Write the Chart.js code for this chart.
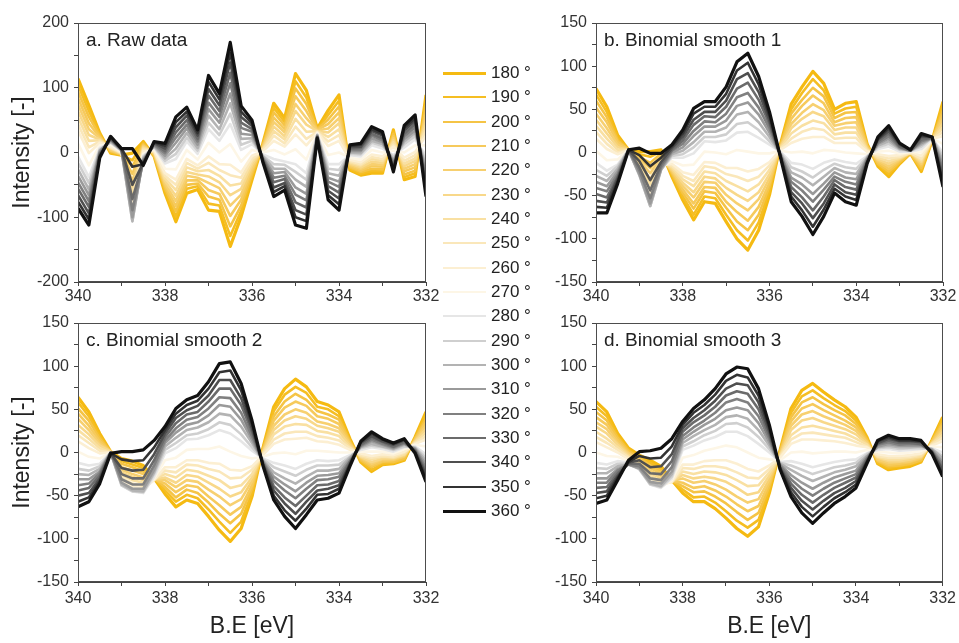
<!DOCTYPE html>
<html>
<head>
<meta charset="utf-8">
<script src="https://cdn.jsdelivr.net/npm/chart.js@4.4.0/dist/chart.umd.min.js"></script>
<style>
  body { margin: 0; background: #fff; width: 959px; height: 643px; overflow: hidden; position: relative;
         font-family: "Liberation Sans", Arial, sans-serif; }
  canvas { position: absolute; left: 0; top: 0; }
  .item { position: absolute; left: 443px; height: 24px; display: flex; align-items: center; }
  .swatch { width: 43px; margin-right: 5px; }
  .item span { font-size: 17px; color: #222; }
</style>
</head>
<body>
<canvas id="pa" width="959" height="643"></canvas>
<canvas id="pb" width="959" height="643"></canvas>
<canvas id="pc" width="959" height="643"></canvas>
<canvas id="pd" width="959" height="643"></canvas>
<div id="legend"></div>
<script>
// binding energy of each row (eV)
const energy = [340,339.75,339.5,339.25,339,338.75,338.5,338.25,338,337.75,337.5,337.25,337,336.75,336.5,336.25,336,
                335.75,335.5,335.25,335,334.75,334.5,334.25,334,333.75,333.5,333.25,333,332.75,332.5,332.25,332];
const angles = [180,190,200,210,220,230,240,250,260,270,280,290,300,310,320,330,340,350,360];

// one row per energy, one column per angle (180 ... 360)
const rawRows = [
  [114,104,94,84,74,64,54,44,34,14,-6,-16,-26,-36,-46,-56,-66,-76,-86],
  [73,64,55,45,36,27,18,8,-1,-20,-38,-47,-57,-66,-75,-84,-94,-103,-112],
  [30,28,26,24,22,20,19,17,15,11,7,5,3,2,0,-2,-4,-6,-8],
  [-1,0,2,3,4,6,7,8,9,12,15,16,17,19,20,21,22,24,25],
  [-4,-4,-3,-3,-2,-2,-1,-1,0,1,2,3,3,4,4,5,5,6,6],
  [-1,-12,-22,-33,-44,-54,-65,-76,-86,-97,-107,-106,-106,-100,-89,-72,-50,-22,6],
  [17,15,13,11,10,8,6,4,2,-2,-5,-7,-9,-11,-13,-14,-16,-18,-20],
  [-6,-5,-4,-3,-1,0,1,2,3,6,8,9,10,11,12,14,15,16,17],
  [-63,-59,-55,-51,-48,-44,-40,-36,-32,-25,-17,-13,-9,-5,-1,2,6,10,14],
  [-107,-99,-91,-83,-75,-67,-58,-50,-42,-26,-10,-2,6,15,23,31,39,47,55],
  [-63,-56,-50,-43,-36,-30,-23,-16,-10,4,17,23,30,37,43,50,57,63,70],
  [-57,-52,-48,-43,-39,-34,-29,-25,-20,-11,-2,3,7,12,17,21,26,30,35],
  [-89,-79,-68,-58,-47,-37,-27,-16,-6,15,36,46,57,67,77,88,98,109,119],
  [-91,-82,-73,-64,-55,-46,-36,-27,-18,0,18,27,36,46,55,64,73,82,91],
  [-145,-129,-114,-98,-82,-66,-51,-35,-19,13,44,60,76,91,107,123,139,154,170],
  [-99,-90,-82,-73,-65,-56,-48,-39,-31,-14,4,12,21,29,38,46,55,63,72],
  [-42,-37,-33,-28,-24,-19,-14,-10,-5,4,13,18,22,27,32,36,41,45,50],
  [14,13,11,10,8,7,5,4,2,0,-3,-5,-6,-8,-9,-11,-12,-14,-15],
  [76,69,62,54,47,40,33,26,18,4,-10,-18,-25,-32,-39,-46,-54,-61,-68],
  [53,47,42,36,31,25,20,14,9,-3,-14,-19,-25,-30,-36,-41,-47,-52,-58],
  [122,110,99,87,75,64,52,40,28,5,-18,-30,-42,-54,-65,-77,-89,-100,-112],
  [96,85,75,64,53,43,32,21,11,-11,-32,-42,-53,-64,-74,-85,-96,-106,-117],
  [37,36,36,35,34,33,33,32,31,30,28,27,27,26,25,24,24,23,22],
  [65,58,51,44,37,31,24,17,10,-4,-18,-25,-32,-39,-45,-52,-59,-66,-73],
  [89,80,71,62,53,45,36,27,18,0,-18,-27,-36,-45,-53,-62,-71,-80,-89],
  [-27,-25,-23,-21,-19,-17,-15,-13,-11,-8,-4,-2,0,2,4,6,8,10,12],
  [-35,-33,-30,-28,-25,-23,-20,-18,-15,-11,-6,-3,-1,2,4,7,9,12,14],
  [-32,-28,-25,-21,-18,-14,-10,-7,-3,4,11,15,18,22,26,29,33,36,40],
  [-32,-29,-26,-22,-19,-16,-13,-10,-6,0,6,10,13,16,19,22,26,29,32],
  [35,32,29,25,22,19,16,12,9,3,-4,-7,-11,-14,-17,-20,-24,-27,-30],
  [-42,-38,-34,-29,-25,-21,-17,-13,-8,0,8,13,17,21,25,29,34,38,42],
  [-37,-32,-28,-23,-18,-13,-9,-4,1,11,20,25,30,34,39,44,49,53,58],
  [89,81,73,65,58,50,42,34,26,11,-5,-13,-21,-29,-37,-44,-52,-60,-68]
];

const smooth1Rows = [
  [74,67,60,52,45,38,31,24,16,2,-12,-20,-27,-34,-41,-48,-56,-63,-70],
  [53,47,41,35,28,22,16,10,4,-9,-21,-27,-33,-39,-45,-52,-58,-64,-70],
  [20,17,14,12,9,6,3,0,-2,-8,-14,-16,-19,-22,-25,-28,-30,-33,-36],
  [3,3,3,3,3,3,3,3,3,3,3,3,3,3,3,3,3,3,3],
  [1,-2,-5,-7,-10,-13,-16,-19,-21,-24,-27,-26,-26,-25,-21,-17,-10,-3,5],
  [1,-5,-12,-18,-24,-31,-37,-43,-49,-56,-62,-62,-62,-59,-53,-44,-32,-16,-1],
  [3,1,-1,-4,-6,-8,-10,-12,-15,-17,-19,-20,-20,-19,-17,-14,-11,-6,-1],
  [-28,-26,-24,-22,-21,-19,-17,-15,-13,-10,-6,-4,-2,0,2,3,5,7,9],
  [-55,-51,-47,-43,-39,-35,-31,-27,-23,-15,-6,-2,2,6,10,14,18,22,26],
  [-78,-72,-65,-59,-52,-46,-39,-33,-26,-14,-1,6,12,19,25,32,38,45,51],
  [-57,-51,-45,-40,-34,-28,-22,-16,-11,1,13,18,24,30,36,42,47,53,59],
  [-59,-53,-47,-41,-35,-30,-24,-18,-12,0,12,18,24,30,35,41,47,53,59],
  [-80,-72,-64,-57,-49,-41,-33,-25,-18,-2,14,21,29,37,45,53,60,68,76],
  [-100,-90,-80,-69,-59,-49,-39,-28,-18,3,23,33,44,54,64,74,85,95,105],
  [-113,-102,-90,-79,-67,-56,-45,-33,-22,1,24,35,47,58,69,81,92,104,115],
  [-90,-81,-72,-63,-54,-46,-37,-28,-19,-1,17,26,35,44,52,61,70,79,88],
  [-49,-44,-39,-35,-30,-25,-20,-15,-11,-1,9,13,18,23,28,33,37,42,47],
  [9,8,8,7,6,6,5,4,3,2,1,0,-1,-2,-2,-3,-4,-4,-5],
  [56,50,45,39,33,28,22,16,11,0,-12,-17,-23,-29,-34,-40,-46,-51,-57],
  [76,69,61,54,46,39,31,24,16,1,-14,-22,-29,-37,-44,-52,-59,-67,-74],
  [94,85,75,66,56,47,37,28,18,-1,-19,-29,-38,-48,-57,-67,-76,-86,-95],
  [80,72,65,57,49,42,34,26,18,3,-12,-20,-28,-36,-43,-51,-59,-66,-74],
  [50,45,40,35,31,26,21,16,11,2,-8,-13,-18,-23,-28,-32,-37,-42,-47],
  [57,51,46,40,34,29,23,17,11,0,-11,-17,-23,-29,-34,-40,-46,-51,-57],
  [59,53,47,41,35,29,23,17,11,-1,-13,-19,-25,-31,-37,-43,-49,-55,-61],
  [10,9,8,7,5,4,3,2,1,-2,-4,-5,-6,-7,-8,-10,-11,-12,-13],
  [-16,-14,-13,-11,-9,-8,-6,-4,-2,1,4,6,8,10,11,13,15,16,18],
  [-28,-25,-22,-19,-16,-13,-10,-7,-4,2,7,10,13,16,19,22,25,28,31],
  [-13,-12,-11,-9,-8,-7,-6,-5,-3,-1,1,3,4,5,6,7,9,10,11],
  [-1,-1,-1,0,0,0,0,0,1,1,1,2,2,2,2,2,3,3,3],
  [-22,-20,-18,-15,-13,-11,-9,-7,-4,0,4,7,9,11,13,15,18,20,22],
  [14,14,14,15,15,15,15,15,16,16,16,17,17,17,17,17,18,18,18],
  [59,54,49,44,39,34,29,24,19,10,0,-5,-10,-15,-20,-25,-30,-35,-40]
];

const smooth2Rows = [
  [64,58,51,45,39,32,26,20,13,1,-12,-19,-25,-31,-38,-44,-50,-57,-63],
  [47,42,37,31,26,21,16,11,5,-5,-15,-21,-26,-31,-36,-41,-47,-52,-57],
  [22,19,16,13,10,8,5,2,-1,-7,-13,-16,-19,-22,-24,-27,-30,-33,-36],
  [1,1,1,1,1,1,0,0,0,0,0,0,0,0,0,0,-1,-1,-1],
  [-7,-10,-13,-17,-20,-23,-26,-29,-33,-35,-38,-38,-37,-35,-31,-25,-18,-8,1],
  [-10,-14,-17,-21,-25,-28,-32,-36,-39,-42,-45,-45,-44,-42,-37,-30,-21,-10,1],
  [-15,-18,-22,-25,-29,-32,-35,-39,-42,-45,-47,-46,-45,-42,-37,-30,-20,-9,3],
  [-30,-30,-30,-31,-31,-31,-31,-31,-32,-30,-28,-25,-23,-20,-15,-9,-2,6,14],
  [-48,-44,-40,-36,-32,-29,-25,-21,-17,-9,-1,3,7,11,14,18,22,26,30],
  [-63,-57,-52,-46,-40,-35,-29,-23,-17,-6,5,11,17,23,28,34,40,45,51],
  [-55,-49,-43,-38,-32,-26,-20,-14,-9,3,15,20,26,32,38,44,49,55,61],
  [-59,-53,-47,-40,-34,-28,-22,-15,-9,4,16,22,29,35,41,47,54,60,66],
  [-74,-66,-58,-51,-43,-35,-27,-19,-12,4,20,27,35,43,51,59,66,74,82],
  [-90,-80,-71,-61,-51,-42,-32,-22,-13,7,26,35,45,55,64,74,84,93,103],
  [-103,-93,-82,-72,-61,-51,-41,-30,-20,1,22,32,43,53,63,74,84,95,105],
  [-88,-80,-71,-63,-54,-46,-38,-29,-21,-4,13,21,30,38,46,55,63,72,80],
  [-51,-47,-42,-38,-33,-29,-25,-20,-16,-7,2,6,11,15,19,24,28,33,37],
  [5,4,3,2,1,0,-1,-2,-3,-5,-7,-8,-9,-10,-11,-12,-13,-14,-15],
  [53,48,42,37,31,26,21,15,10,-1,-12,-17,-23,-28,-33,-39,-44,-50,-55],
  [74,67,59,52,44,37,30,22,15,0,-15,-22,-30,-37,-44,-52,-59,-67,-74],
  [85,76,68,59,50,42,33,24,16,-2,-19,-27,-36,-45,-53,-62,-71,-79,-88],
  [76,69,61,54,46,39,32,24,17,2,-13,-20,-28,-35,-42,-50,-57,-65,-72],
  [59,53,48,42,36,31,25,19,13,2,-9,-15,-21,-27,-32,-38,-44,-49,-55],
  [55,50,44,39,33,28,23,17,12,1,-10,-15,-21,-26,-31,-37,-42,-48,-53],
  [47,42,38,33,28,24,19,14,9,0,-9,-14,-19,-24,-28,-33,-38,-42,-47],
  [16,14,13,11,10,8,6,5,3,0,-3,-5,-6,-8,-10,-11,-13,-14,-16],
  [-11,-10,-9,-7,-6,-5,-4,-3,-1,1,3,5,6,7,8,9,11,12,13],
  [-22,-20,-17,-15,-13,-11,-8,-6,-4,1,6,8,10,13,15,17,19,22,24],
  [-14,-13,-11,-10,-8,-7,-5,-4,-2,1,4,6,7,9,10,12,13,15,16],
  [-13,-12,-11,-9,-8,-7,-6,-5,-3,-1,1,3,4,5,6,7,9,10,11],
  [-9,-8,-7,-5,-4,-3,-2,0,1,4,6,7,9,10,11,12,14,15,16],
  [18,17,16,15,14,13,12,11,10,9,7,6,5,4,3,2,1,0,-1],
  [47,43,39,35,31,27,23,19,15,7,-2,-6,-10,-14,-18,-22,-26,-30,-34]
];

const smooth3Rows = [
  [59,53,47,41,35,30,24,18,12,0,-12,-18,-24,-30,-35,-41,-47,-53,-59],
  [47,42,37,32,27,22,16,11,6,-4,-14,-19,-24,-30,-35,-40,-45,-50,-55],
  [22,19,17,14,11,9,6,3,0,-5,-10,-13,-16,-19,-21,-24,-27,-29,-32],
  [5,3,2,0,-1,-3,-5,-6,-8,-10,-12,-13,-14,-14,-14,-13,-12,-11,-9],
  [-3,-5,-6,-8,-10,-12,-13,-15,-17,-18,-20,-19,-19,-18,-16,-13,-9,-4,1],
  [-9,-12,-15,-18,-21,-24,-27,-30,-33,-35,-37,-37,-36,-34,-30,-24,-17,-7,2],
  [-16,-19,-22,-24,-27,-30,-33,-35,-38,-40,-41,-40,-39,-36,-32,-25,-16,-6,5],
  [-32,-32,-33,-33,-33,-34,-34,-34,-34,-32,-30,-28,-25,-22,-17,-10,-2,7,16],
  [-47,-43,-39,-35,-30,-26,-22,-18,-14,-6,3,7,11,15,19,24,28,32,36],
  [-57,-52,-46,-41,-35,-30,-25,-19,-14,-3,8,13,19,24,29,35,40,46,51],
  [-57,-51,-45,-39,-33,-28,-22,-16,-10,2,14,20,26,32,37,43,49,55,61],
  [-65,-58,-51,-44,-37,-30,-23,-16,-9,5,18,25,32,39,46,53,60,67,74],
  [-76,-68,-59,-51,-43,-34,-26,-18,-9,8,24,33,41,49,58,66,74,83,91],
  [-88,-79,-69,-60,-51,-41,-32,-23,-13,6,24,34,43,52,62,71,80,90,99],
  [-97,-87,-78,-68,-58,-49,-39,-29,-19,0,19,29,39,49,58,68,78,87,97],
  [-86,-78,-70,-62,-54,-46,-38,-30,-22,-6,10,18,26,34,42,50,58,66,74],
  [-47,-43,-39,-35,-31,-27,-23,-19,-15,-8,0,4,8,12,16,20,24,28,32],
  [3,2,1,0,-2,-3,-4,-5,-6,-9,-11,-12,-13,-14,-15,-17,-18,-19,-20],
  [51,46,41,36,31,26,20,15,10,0,-10,-15,-20,-26,-31,-36,-41,-46,-51],
  [72,65,58,51,44,37,29,22,15,1,-13,-20,-27,-35,-42,-49,-56,-63,-70],
  [80,72,64,56,48,40,31,23,15,-1,-17,-25,-33,-42,-50,-58,-66,-74,-82],
  [70,63,56,49,42,35,28,21,14,0,-14,-21,-28,-35,-42,-49,-56,-63,-70],
  [61,55,49,43,37,31,25,19,13,1,-11,-17,-23,-29,-35,-41,-47,-53,-59],
  [53,48,43,37,32,27,22,17,11,1,-9,-15,-20,-25,-30,-35,-41,-46,-51],
  [41,37,33,29,25,21,16,12,8,0,-8,-12,-16,-21,-25,-29,-33,-37,-41],
  [18,16,15,13,12,10,9,7,6,3,-1,-2,-4,-5,-7,-8,-10,-11,-13],
  [-13,-12,-10,-9,-8,-6,-5,-4,-2,1,3,5,6,7,9,10,11,13,14],
  [-20,-18,-16,-14,-12,-10,-8,-6,-4,0,4,6,8,10,12,14,16,18,20],
  [-18,-16,-15,-13,-11,-10,-8,-6,-4,-1,2,4,6,8,9,11,13,14,16],
  [-16,-14,-13,-11,-10,-8,-6,-5,-3,0,3,5,6,8,10,11,13,14,16],
  [-11,-10,-9,-7,-6,-5,-4,-2,-1,2,4,5,7,8,9,10,12,13,14],
  [14,13,13,12,11,10,10,9,8,7,5,4,4,3,2,1,1,0,-1],
  [41,38,34,31,27,24,20,17,13,6,0,-4,-7,-11,-14,-18,-21,-25,-28]
];

const lineColors = ['#F5BA12','#F5BE23','#F5C446','#F6CA5C','#F7D070','#F8D88A','#F9E0A2','#FAE7BA','#FCEFD2','#FDF6E6',
                    '#E6E6E6','#CFCFCF','#B3B3B3','#9A9A9A','#808080','#6B6B6B','#4F4F4F','#333333','#111111'];

Chart.defaults.font.family = '"Liberation Sans", Arial, sans-serif';
const axisColor = '#444';

// box round the plot area + panel caption
const framePlugin = {
  id: 'frame',
  afterDraw(chart, args, opts) {
    const { ctx, chartArea: a } = chart;
    ctx.save();
    ctx.strokeStyle = '#4d4d4d';
    ctx.lineWidth = 1;
    ctx.strokeRect(Math.round(a.left) + 0.5, Math.round(a.top) + 0.5,
                   Math.round(a.right - a.left) - 1, Math.round(a.bottom - a.top) - 1);
    ctx.font = '19px "Liberation Sans", Arial, sans-serif';
    ctx.fillStyle = '#222';
    ctx.textBaseline = 'alphabetic';
    ctx.fillText(opts.label, a.left + 8, a.top + 23);
    ctx.restore();
  }
};

function makePanel(id, rows, p) {
  const datasets = angles.map((ang, k) => ({
    label: ang + ' °',
    data: energy.map((e, i) => ({ x: e, y: rows[i][k] })),
    borderColor: lineColors[k],
    borderWidth: (k === 0 || k === angles.length - 1) ? 3.2 : 2.6,
    borderJoinStyle: 'round',
    pointRadius: 0,
    tension: 0,
    order: angles.length - k   // 360 ° ends up on top
  }));

  new Chart(document.getElementById(id), {
    type: 'line',
    data: { datasets },
    options: {
      responsive: false,
      animation: false,
      events: [],
      layout: { padding: p.pad },
      plugins: {
        legend: { display: false },
        tooltip: { enabled: false },
        frame: { label: p.label }
      },
      scales: {
        x: {
          type: 'linear', min: 332, max: 340, reverse: true,
          afterFit: s => { s.height = p.xh; },
          border: { color: axisColor, width: 1 },
          grid: { drawOnChartArea: false, tickLength: 4, tickColor: axisColor },
          ticks: {
            stepSize: 1, autoSkip: false, maxRotation: 0, padding: p.xpad,
            color: '#333', font: { size: 16 },
            callback: v => (v % 2 === 0 ? String(v) : '')
          },
          title: { display: p.xTitle, text: 'B.E [eV]', color: '#222', font: { size: 23 },
                   padding: { top: 0, bottom: 3 } }
        },
        y: {
          min: p.ymin, max: p.ymax,
          afterFit: s => { s.width = p.yw; },
          border: { color: axisColor, width: 1 },
          grid: { drawOnChartArea: false, tickLength: 4, tickColor: axisColor },
          ticks: {
            stepSize: p.ystep, autoSkip: false, padding: 5,
            color: '#333', font: { size: 16 },
            callback: v => (v % p.ylab === 0 ? String(v) : '')
          },
          title: { display: p.yTitle, text: 'Intensity [-]', color: '#222', font: { size: 23 },
                   padding: { top: 9, bottom: 0 } }
        }
      }
    },
    plugins: [framePlugin]
  });
}

makePanel('pa', rawRows, {
  label: 'a. Raw data', ymin: -200, ymax: 200, ystep: 50, ylab: 100,
  pad: { left: 0, top: 23, right: 533, bottom: 331 }, xh: 30, yw: 78, xpad: 1, xTitle: false, yTitle: true
});
makePanel('pb', smooth1Rows, {
  label: 'b. Binomial smooth 1', ymin: -150, ymax: 150, ystep: 25, ylab: 50,
  pad: { left: 496, top: 23, right: 16, bottom: 331 }, xh: 30, yw: 100, xpad: 1, xTitle: false, yTitle: false
});
makePanel('pc', smooth2Rows, {
  label: 'c. Binomial smooth 2', ymin: -150, ymax: 150, ystep: 25, ylab: 50,
  pad: { left: 0, top: 323, right: 533, bottom: 0 }, xh: 61, yw: 78, xpad: 3, xTitle: true, yTitle: true
});
makePanel('pd', smooth3Rows, {
  label: 'd. Binomial smooth 3', ymin: -150, ymax: 150, ystep: 25, ylab: 50,
  pad: { left: 496, top: 323, right: 16, bottom: 0 }, xh: 61, yw: 100, xpad: 3, xTitle: true, yTitle: false
});

// legend in the middle column, rows snapped to whole pixels
const legend = document.getElementById('legend');
angles.forEach((ang, k) => {
  const item = document.createElement('div');
  item.className = 'item';
  item.style.top = Math.round(61 + 24.33 * k) + 'px';
  const sw = document.createElement('div');
  sw.className = 'swatch';
  sw.style.height = (k === 0 || k === angles.length - 1) ? '3px' : '2px';
  sw.style.background = lineColors[k];
  const txt = document.createElement('span');
  txt.textContent = ang + ' °';
  item.appendChild(sw);
  item.appendChild(txt);
  legend.appendChild(item);
});
</script>
</body>
</html>
